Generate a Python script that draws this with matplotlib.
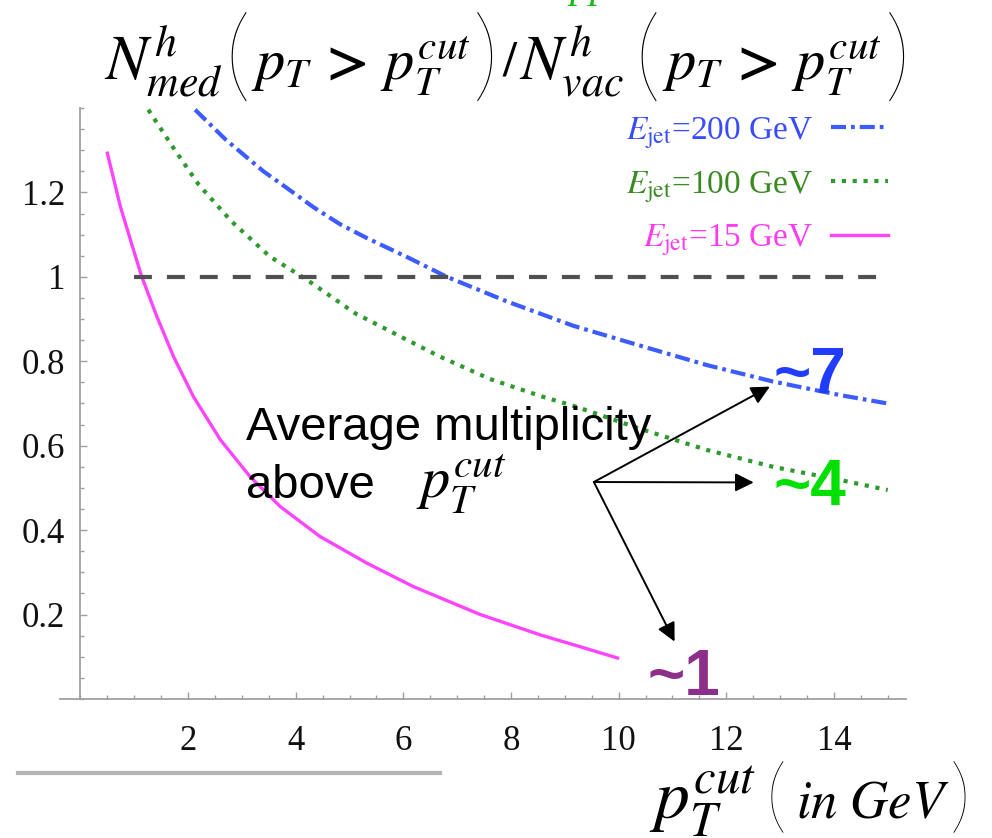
import matplotlib
matplotlib.use("Agg")
import matplotlib.pyplot as plt
from matplotlib.lines import Line2D
from matplotlib.ticker import MultipleLocator, FixedLocator, FuncFormatter

plt.rcParams['mathtext.fontset'] = 'stix'
plt.rcParams['font.family'] = ['Liberation Serif', 'DejaVu Serif']

# ---- data ----
x_15 = [0.50, 0.74, 0.985, 1.14, 1.42, 1.73, 2.10, 2.60, 3.15, 3.71, 4.45, 5.32, 6.19, 7.43, 8.54, 9.28, 9.98]
y_15 = [1.293, 1.167, 1.064, 1.0, 0.906, 0.811, 0.716, 0.614, 0.527, 0.456, 0.385, 0.322, 0.266, 0.200, 0.152, 0.124, 0.097]

x_100 = [1.26, 1.73, 2.20, 2.81, 3.52, 4.21, 5.10, 5.94, 6.68, 7.61, 8.54, 9.22, 10.40, 11.64, 12.87, 14.11, 15.0]
y_100 = [1.396, 1.305, 1.218, 1.131, 1.048, 0.993, 0.914, 0.859, 0.811, 0.758, 0.718, 0.692, 0.640, 0.590, 0.550, 0.519, 0.495]

x_200 = [2.13, 2.70, 3.40, 3.71, 4.33, 4.82, 5.32, 6.10, 6.81, 7.92, 9.16, 10.40, 11.64, 12.87, 14.11, 15.0]
y_200 = [1.396, 1.325, 1.250, 1.222, 1.165, 1.125, 1.092, 1.045, 1.0, 0.942, 0.884, 0.837, 0.791, 0.752, 0.720, 0.700]

ref_x = [1.0, 15.0]
ref_y = [1.0, 1.0]

x_ticks = [2, 4, 6, 8, 10, 12, 14]
y_ticks = [0.2, 0.4, 0.6, 0.8, 1.0, 1.2]

labels = [r'$E_{\rm jet}$=200 GeV', r'$E_{\rm jet}$=100 GeV', r'$E_{\rm jet}$=15 GeV']
line_colors = ['#3d5cff', '#2e9a2e', '#ff44ff']
text_colors = ['#3a4cff', '#3a8a22', '#ff3cf0']

W, H = 992, 838
fig = plt.figure(figsize=(W / 100, H / 100), dpi=100)
ax = fig.add_axes([0.0605, 0.1659, 0.8528, 0.7052])
ax.set_xlim(-0.38, 15.34)
ax.set_ylim(0, 1.40)

h200, = ax.plot(x_200, y_200, color=line_colors[0], lw=3.0, dashes=(3.6, 1.2, 0.9, 1.2))
h100, = ax.plot(x_100, y_100, color=line_colors[1], lw=3.0, dashes=(1.0, 1.6))
h15, = ax.plot(x_15, y_15, color=line_colors[2], lw=2.4)
ax.plot(ref_x, ref_y, color='#505050', lw=3.0, dashes=(4.3, 3.6))

for s in ['top', 'right']:
    ax.spines[s].set_visible(False)
ax.spines['left'].set_position(('data', 0))
for s in ['left', 'bottom']:
    ax.spines[s].set_color('#a0a0a0')
    ax.spines[s].set_linewidth(1.3)

ax.xaxis.set_major_locator(FixedLocator(x_ticks))
ax.yaxis.set_major_locator(FixedLocator(y_ticks))
ax.xaxis.set_minor_locator(MultipleLocator(0.5))
ax.yaxis.set_minor_locator(MultipleLocator(0.05))
ax.yaxis.set_major_formatter(FuncFormatter(lambda v, p: '%g' % v))
ax.tick_params(which='both', direction='in', color='#a0a0a0', width=1.0)
ax.tick_params(which='major', length=5)
ax.tick_params(which='minor', length=3)
ax.tick_params(axis='x', which='major', pad=19, labelsize=25, labelcolor='#111111')
ax.tick_params(axis='y', which='major', pad=11, labelsize=25, labelcolor='#111111')

leg = ax.legend([h200, h100, h15], labels, loc='upper right',
                bbox_to_anchor=(888 / W, 1 - 115 / H), bbox_transform=fig.transFigure,
                frameon=False, markerfirst=False, fontsize=24,
                handlelength=1.7, handletextpad=0.55, labelspacing=0.55,
                borderpad=0, borderaxespad=0)
for t, c in zip(leg.get_texts(), text_colors):
    t.set_color(c)


def ftext(px, py, s, **kw):
    """Place text at figure pixel position (from top-left)."""
    return fig.text(px / W, 1 - py / H, s, **kw)


# title, built from pieces so the brackets can be tall and thin
tb = 80
mkw = dict(ha='left', va='baseline', color='black')
pkw = dict(ha='left', va='baseline', color='black',
           family=['Lato', 'DejaVu Sans'], fontweight='light')
ftext(104, tb, r'$N^{h}_{med}$', fontsize=45, **mkw)
ftext(224, tb + 9, '(', fontsize=74, **pkw)
ftext(251, tb, r'$p_T\,\mathbf{>}\,p_T^{cut}$', fontsize=42, **mkw)
ftext(473, tb + 9, ')', fontsize=74, **pkw)
ftext(502, tb - 4, r'$/$', fontsize=36, **mkw)
ftext(519, tb, r'$N^{h}_{vac}$', fontsize=45, **mkw)
ftext(634, tb + 9, '(', fontsize=74, **pkw)
ftext(662, tb, r'$p_T\,\mathbf{>}\,p_T^{cut}$', fontsize=42, **mkw)
ftext(885, tb + 9, ')', fontsize=74, **pkw)

# x-axis label, bottom right
xb = 818
ftext(649, xb, r'$p_T^{cut}$', fontsize=50, **mkw)
ftext(766, xb + 5, '(', fontsize=60, **pkw)
ftext(796, xb, r'$in\ GeV$', fontsize=38, **mkw)
ftext(950, xb + 5, ')', fontsize=60, **pkw)

# annotation text
sans = ['Liberation Sans', 'DejaVu Sans']
ax.text(3.08, 0.614, 'Average multiplicity', family=sans, fontsize=34,
        ha='left', va='baseline', color='black')
ax.text(3.08, 0.476, 'above', family=sans, fontsize=34,
        ha='left', va='baseline', color='black')
ax.text(6.24, 0.476, r'$p_T^{cut}$', fontsize=42,
        ha='left', va='baseline', color='black')

origin = (9.54, 0.514)
for tip in [(12.81, 0.740), (12.51, 0.513), (11.04, 0.136)]:
    ax.annotate('', xy=tip, xytext=origin,
                arrowprops=dict(arrowstyle='-|>', lw=1.4, color='black',
                                mutation_scale=28, shrinkA=0, shrinkB=0))

ax.text(12.87, 0.725, '~7', family=sans, fontweight='bold', fontsize=46,
        color='#1f3cff', ha='left', va='baseline')
ax.text(12.87, 0.460, '~4', family=sans, fontweight='bold', fontsize=46,
        color='#00e000', ha='left', va='baseline')
ax.text(10.53, 0.0095, '~1', family=sans, fontweight='bold', fontsize=46,
        color='#8b2f8b', ha='left', va='baseline', clip_on=False)

# slide artefacts: grey rule lower-left and clipped green text at the top
fig.add_artist(Line2D([18 / W, 440 / W], [1 - 773 / H] * 2,
                      color='#b4b4b4', lw=3))
fig.text(0.595, 1.003, 'pp', color='#18b818', fontsize=30, ha='center',
         va='baseline', style='italic')

fig.savefig('out.png', dpi=100)
